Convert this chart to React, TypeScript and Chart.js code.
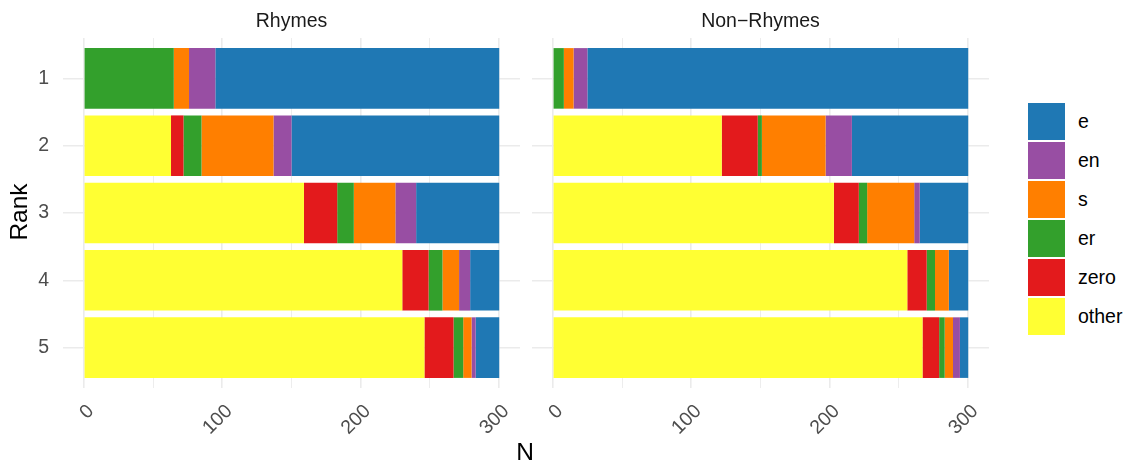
import React, { useEffect, useRef } from "react";
import { Chart, registerables } from "chart.js";

Chart.register(...registerables);

const FONT = '"Liberation Sans", Arial, Helvetica, sans-serif';

const ranks = [1, 2, 3, 4, 5];
const categories = ["other", "zero", "er", "s", "en", "e"];
const colors = ["#FFFF33", "#E31A1C", "#33A02C", "#FF7F00", "#984EA3", "#1F78B4"];
const legendOrder = ["e", "en", "s", "er", "zero", "other"];

// Rhymes panel (per rank 1..5)
const rhymesOther = [0, 63, 159, 230, 246];
const rhymesZero = [0, 9, 24, 19, 21];
const rhymesEr = [65, 13, 12, 10, 7];
const rhymesS = [11, 52, 30, 12, 6];
const rhymesEn = [19, 13, 15, 8, 3];
const rhymesE = [205, 150, 60, 21, 17];

// Non-Rhymes panel (per rank 1..5)
const nonRhymesOther = [0, 122, 203, 256, 267];
const nonRhymesZero = [0, 26, 18, 14, 12];
const nonRhymesEr = [8, 3, 6, 6, 4];
const nonRhymesS = [7, 46, 34, 10, 6];
const nonRhymesEn = [10, 19, 4, 0, 5];
const nonRhymesE = [275, 84, 35, 14, 6];

const xGridTicks = [0, 50, 100, 150, 200, 250, 300];
const xLabelTicks = [0, 100, 200, 300];

const rhymesSeries = [rhymesOther, rhymesZero, rhymesEr, rhymesS, rhymesEn, rhymesE];
const nonRhymesSeries = [nonRhymesOther, nonRhymesZero, nonRhymesEr, nonRhymesS, nonRhymesEn, nonRhymesE];

type PanelProps = {
  series: number[][];
  showY: boolean;
  left: number;
  width: number;
  padLeft: number;
  padRight: number;
};

function Panel({ series, showY, left, width, padLeft, padRight }: PanelProps) {
  const ref = useRef<HTMLCanvasElement>(null);
  useEffect(() => {
    const chart = new Chart(ref.current as HTMLCanvasElement, {
      type: "bar",
      data: {
        datasets: categories.map((c, i) => ({
          label: c,
          data: ranks.map((r, j) => ({ x: series[i][j], y: r })),
          backgroundColor: colors[i],
          borderWidth: 0,
          barPercentage: 0.9,
          categoryPercentage: 1,
        })),
      },
      options: {
        indexAxis: "y",
        responsive: false,
        animation: false,
        layout: { padding: { top: 38, left: padLeft, right: padRight, bottom: 0 } },
        plugins: { legend: { display: false }, tooltip: { enabled: false } },
        scales: {
          x: {
            type: "linear",
            stacked: true,
            min: -15,
            max: 315,
            afterBuildTicks: (s: any) => {
              s.ticks = xGridTicks.map((v) => ({ value: v }));
            },
            afterFit: (s: any) => {
              s.height = 75;
            },
            grid: {
              color: "#ebebeb",
              lineWidth: (ctx: any) => (ctx.tick && ctx.tick.value % 100 === 0 ? 1.6 : 0.9),
              drawTicks: false,
            },
            border: { display: false },
            ticks: {
              autoSkip: false,
              minRotation: 45,
              maxRotation: 45,
              padding: 12,
              labelOffset: 7,
              color: "#4d4d4d",
              font: { family: FONT, size: 19.5 },
              callback: (v: any) => (xLabelTicks.includes(Number(v)) ? String(v) : ""),
            },
          },
          y: {
            type: "linear",
            stacked: true,
            reverse: true,
            offset: false,
            min: 0.4,
            max: 5.6,
            afterBuildTicks: (s: any) => {
              s.ticks = ranks.map((v) => ({ value: v }));
            },
            afterFit: (s: any) => {
              s.width = showY ? 63 : 0;
            },
            grid: { color: "#ebebeb", lineWidth: 1.6, drawTicks: false, offset: false },
            border: { display: false },
            ticks: {
              display: showY,
              padding: 14,
              color: "#4d4d4d",
              font: { family: FONT, size: 19.5 },
              callback: (v: any) => String(v),
            },
          },
        },
      } as any,
    });
    return () => chart.destroy();
  }, []);
  return (
    <div style={{ position: "absolute", left, top: 0, width, height: 463 }}>
      <canvas ref={ref} width={width} height={463} style={{ display: "block" }} />
    </div>
  );
}

export default function App() {
  const textBase: React.CSSProperties = { position: "absolute", fontFamily: FONT, whiteSpace: "nowrap" };
  return (
    <div style={{ position: "absolute", left: 0, top: 0, width: 1130, height: 463, background: "#ffffff", overflow: "hidden" }}>
      <Panel series={rhymesSeries} showY={true} left={0} width={540} padLeft={0} padRight={20} />
      <Panel series={nonRhymesSeries} showY={false} left={490} width={510} padLeft={42} padRight={11} />
      <div style={{ ...textBase, left: 63, width: 457, top: 8, height: 24, lineHeight: "24px", textAlign: "center", fontSize: 19.5, color: "#1a1a1a" }}>
        Rhymes
      </div>
      <div style={{ ...textBase, left: 532, width: 457, top: 8, height: 24, lineHeight: "24px", textAlign: "center", fontSize: 19.5, color: "#1a1a1a" }}>
        Non−Rhymes
      </div>
      <div style={{ ...textBase, left: 425, width: 200, top: 438, height: 28, lineHeight: "28px", textAlign: "center", fontSize: 24.5, color: "#000" }}>
        N
      </div>
      <div style={{ ...textBase, left: -31, width: 100, top: 198, height: 28, lineHeight: "28px", textAlign: "center", fontSize: 24.5, color: "#000", transform: "rotate(-90deg)" }}>
        Rank
      </div>
      {legendOrder.map((c, i) => (
        <React.Fragment key={c}>
          <div style={{ position: "absolute", left: 1028, top: 103 + 39 * i, width: 37, height: 37, background: colors[categories.indexOf(c)] }} />
          <div style={{ ...textBase, left: 1078, top: 103 + 39 * i, height: 37, lineHeight: "37px", fontSize: 19.5, color: "#000" }}>{c}</div>
        </React.Fragment>
      ))}
    </div>
  );
}
